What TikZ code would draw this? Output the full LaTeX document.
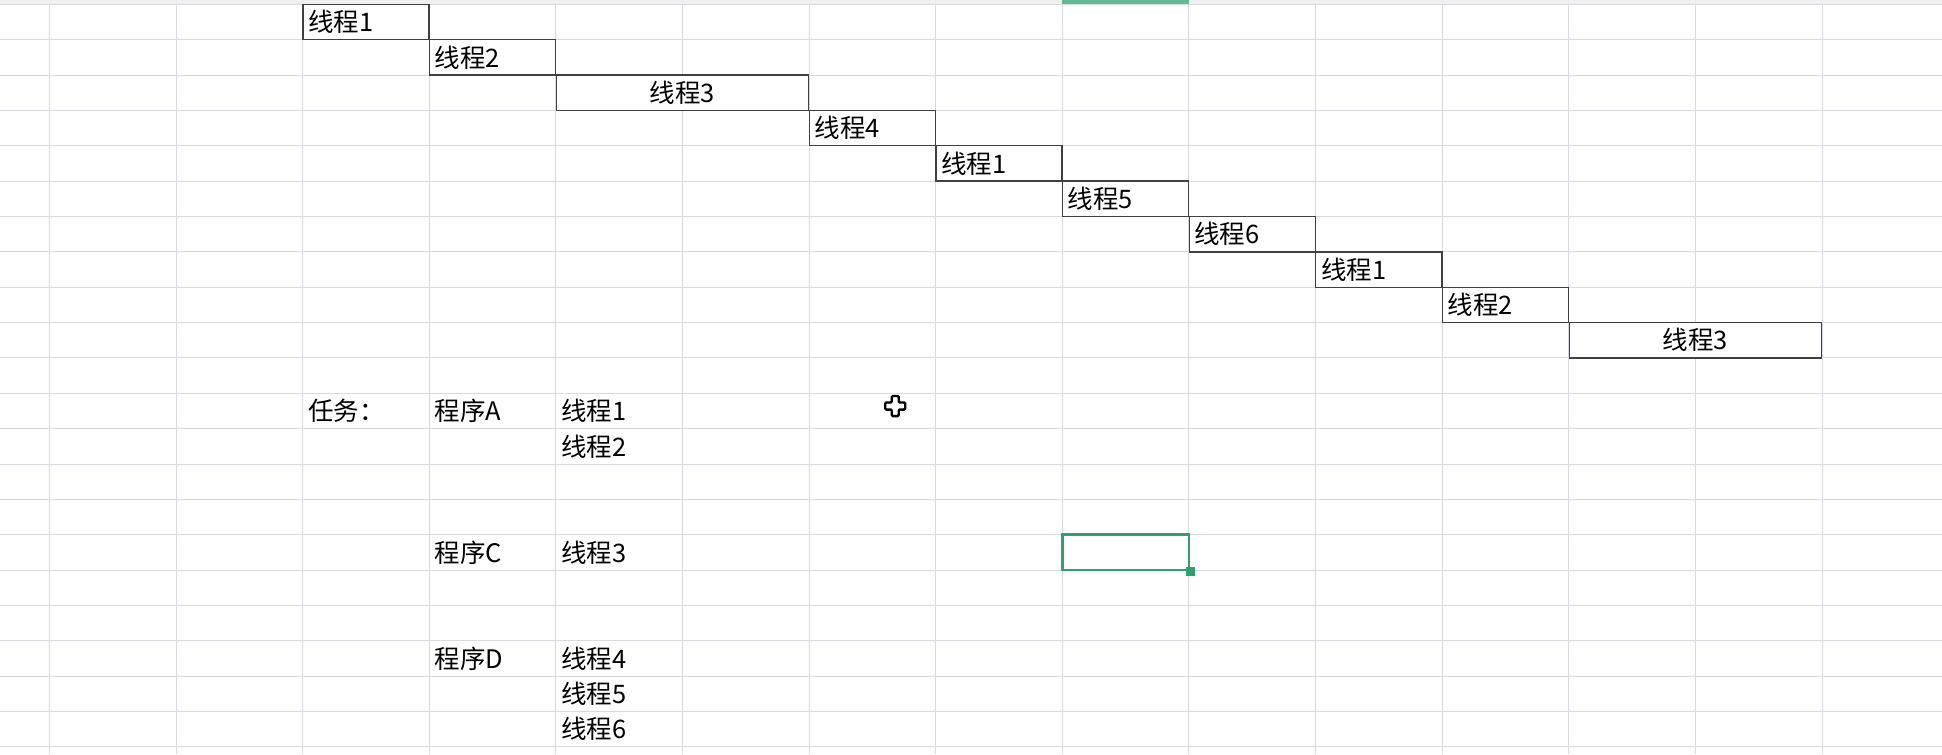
\documentclass[tikz,border=0pt]{standalone}
\usepackage{fontspec}
\setmainfont{Noto Sans CJK SC}
\usepackage{tikz}
\usetikzlibrary{positioning}
\definecolor{gridgray}{RGB}{216,219,223}
\definecolor{selgreen}{RGB}{48,160,112}
\def\cellfont{\fontsize{14.5}{16}\selectfont}
\tikzset{
  gridline/.style={draw=gridgray, line width=0.55pt},
  cell/.style={anchor=west, inner sep=0pt, font=\cellfont},
  slot/.style={draw=black!75, fill=white, line width=0.75pt, minimum height=0.7072cm,
    inner ysep=0pt, inner xsep=3pt, font=\cellfont, text width=65.77pt, align=left},
  wideslot/.style={slot, text width=137.55pt, align=center}
}

\begin{document}
\begin{tikzpicture}[x=2.532cm, y=-0.7072cm]
  \useasboundingbox (-0.391,-0.122) rectangle (14.948,21.201);
  % sheet header and grid
  \fill[gray!12] (-0.391,-0.122) rectangle (14.948,0);
  \fill[selgreen!75] (8,-0.11) rectangle (9,-0.02);
  \foreach \k in {0,...,14}
    \draw[gridline] (\k,0) -- (\k,21.201);
  \foreach \j in {0,...,21}
    \draw[gridline] (-0.391,\j) -- (14.948,\j);

  % time slices
  \node[slot] (s1) at (2.5,0.5) {线程1};
  \node[slot] (s2) at (3.5,1.5) {线程2};
  \node[wideslot] (s3) at (5,2.5) {线程3};
  \node[slot] (s4) at (6.5,3.5) {线程4};
  \node[slot] (s5) at (7.5,4.5) {线程1};
  \node[slot] (s6) at (8.5,5.5) {线程5};
  \node[slot] (s7) at (9.5,6.5) {线程6};
  \node[slot] (s8) at (10.5,7.5) {线程1};
  \node[slot] (s9) at (11.5,8.5) {线程2};
  \node[wideslot] (s10) at (13,9.5) {线程3};

  % tasks
  \node[cell] (task) at (2.04,11.5) {任务：};
  \node[cell] (progA) at (3.04,11.5) {程序A};
  \node[cell] (a1) at (4.04,11.5) {线程1};
  \node[cell] (a2) at (4.04,12.5) {线程2};
  \node[cell] (progC) at (3.04,15.5) {程序C};
  \node[cell] (c3) at (4.04,15.5) {线程3};
  \node[cell] (progD) at (3.04,18.5) {程序D};
  \node[cell] (d4) at (4.04,18.5) {线程4};
  \node[cell] (d5) at (4.04,19.5) {线程5};
  \node[cell] (d6) at (4.04,20.5) {线程6};

  % selected cell and mouse pointer
  \node[draw=selgreen, line width=1.5pt, minimum width=2.532cm, minimum height=0.7072cm,
    inner sep=0pt] (sel) at (8.5,15.5) {};
  \fill[selgreen] (sel.south east) ++(-2.5pt,-2.5pt) rectangle ++(5pt,5pt);
  \begin{scope}[shift={(6.68,11.36)}, x=0.02cm, y=-0.02cm]
    \filldraw[fill=white, draw=black, line width=1.4pt, rounded corners=0.6pt]
      (-3.5,-10) -- (3.5,-10) -- (3.5,-3.5) -- (10,-3.5) -- (10,3.5) -- (3.5,3.5)
      -- (3.5,10) -- (-3.5,10) -- (-3.5,3.5) -- (-10,3.5) -- (-10,-3.5) -- (-3.5,-3.5) -- cycle;
  \end{scope}
\end{tikzpicture}
\end{document}
